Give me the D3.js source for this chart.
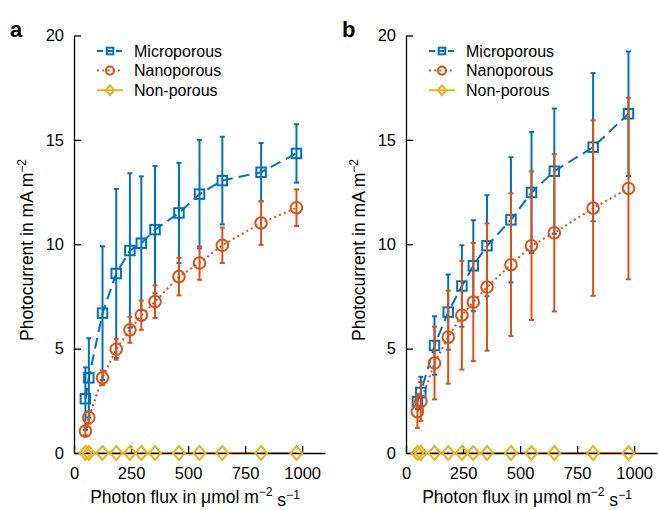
<!DOCTYPE html>
<head>
<meta charset="utf-8">
<title>Photocurrent vs photon flux</title>
<style>
html, body { margin: 0; padding: 0; background: #fff; }
body { font-family: 'Liberation Sans', Arial, Helvetica, sans-serif; }
.axis path, .axis line { stroke: #000; stroke-width: 1.3px; }
.axis text { font-size: 16.5px; fill: #000; font-family: 'Liberation Sans', Arial, sans-serif; }
</style>
</head>
<body>
<svg width="658" height="510"></svg>
<script src="https://cdnjs.cloudflare.com/ajax/libs/d3/7.8.5/d3.min.js"></script>
<script>
var flux = [50, 65, 125, 185, 245, 295, 355, 460, 550, 650, 820, 975];

// panel a
var microA    = [2.6, 3.6, 6.7, 8.6, 9.7, 10.05, 10.7, 11.5, 12.4, 13.05, 13.45, 14.35];
var microAErr = [1.5, 1.9, 3.2, 4.05, 3.7, 3.2, 3.05, 2.4, 2.6, 2.1, 1.4, 1.4];
var nanoA     = [1.05, 1.7, 3.6, 4.97, 5.9, 6.6, 7.25, 8.45, 9.1, 9.95, 11.02, 11.75];
var nanoAErr  = [0.2, 0.3, 0.35, 0.5, 0.62, 0.7, 0.78, 0.9, 0.8, 0.85, 1.05, 0.88];

// panel b
var microB    = [2.46, 2.9, 5.15, 6.75, 8.0, 8.97, 9.93, 11.17, 12.48, 13.5, 14.65, 16.25];
var microBErr = [0.35, 0.75, 1.4, 1.8, 1.95, 2.18, 2.42, 3.0, 2.9, 3.0, 3.55, 2.98];
var nanoB     = [1.98, 2.47, 4.31, 5.55, 6.6, 7.23, 7.95, 9.02, 9.93, 10.55, 11.73, 12.67];
var nanoBErr  = [0.78, 0.93, 1.74, 2.23, 2.6, 2.83, 3.05, 3.42, 3.56, 3.77, 4.2, 4.35];

var nonPorous    = [0, 0, 0, 0, 0, 0, 0, 0, 0, 0, 0, 0];
var nonPorousErr = [0, 0, 0, 0, 0, 0, 0, 0, 0, 0, 0, 0];

var xTicks = [0, 250, 500, 750, 1000];
var yTicks = [0, 5, 10, 15, 20];
var seriesNames = ["Microporous", "Nanoporous", "Non-porous"];

var colors = ["#0072BD", "#D95319", "#EDB120"];

var svg = d3.select("svg");
svg.append("rect").attr("width", 658).attr("height", 510).attr("fill", "#fff");

function drawPanel(left, letter, micro, microErr, nano, nanoErr) {
  var x = d3.scaleLinear().domain([0, 1100]).range([left, left + 251]);
  var y = d3.scaleLinear().domain([0, 20]).range([453, 35.5]);
  var g = svg.append("g");

  var series = [
    {v: micro, e: microErr, c: colors[0], dash: "11,6", shape: "square"},
    {v: nano, e: nanoErr, c: colors[1], dash: "2,3.2", shape: "circle"},
    {v: nonPorous, e: nonPorousErr, c: colors[2], dash: null, shape: "diamond"}
  ];

  var line = d3.line()
    .x(function(d) { return x(d[0]); })
    .y(function(d) { return y(d[1]); });

  // lines
  series.forEach(function(s) {
    g.append("path")
      .datum(flux.map(function(f, i) { return [f, s.v[i]]; }))
      .attr("d", line)
      .attr("fill", "none")
      .attr("stroke", s.c)
      .attr("stroke-width", 2)
      .attr("stroke-dasharray", s.dash);
  });

  // axes
  g.append("g")
    .attr("class", "axis")
    .attr("transform", "translate(0," + y(0) + ")")
    .call(d3.axisBottom(x).tickValues(xTicks).tickFormat(d3.format("d"))
      .tickSizeInner(-7).tickSizeOuter(0).tickPadding(14));
  g.append("g")
    .attr("class", "axis")
    .attr("transform", "translate(" + x(0) + ",0)")
    .call(d3.axisLeft(y).tickValues(yTicks).tickSizeInner(-7).tickSizeOuter(0).tickPadding(10));

  // error bars + markers
  series.forEach(function(s) {
    var pts = flux.map(function(f, i) { return {x: f, v: s.v[i], e: s.e[i]}; });
    var eb = g.append("g").attr("stroke", s.c).attr("stroke-width", 2);
    pts.forEach(function(p) {
      if (p.e <= 0) return;
      var cx = x(p.x);
      eb.append("line").attr("x1", cx).attr("x2", cx).attr("y1", y(p.v - p.e)).attr("y2", y(p.v + p.e));
      eb.append("line").attr("x1", cx - 2.5).attr("x2", cx + 2.5).attr("y1", y(p.v - p.e)).attr("y2", y(p.v - p.e));
      eb.append("line").attr("x1", cx - 2.5).attr("x2", cx + 2.5).attr("y1", y(p.v + p.e)).attr("y2", y(p.v + p.e));
    });
    pts.forEach(function(p) {
      drawMarker(g, s.shape, x(p.x), y(p.v), s.c, 1);
    });
  });

  // legend
  var lg = g.append("g");
  series.forEach(function(s, i) {
    var ly = 51 + i * 19.6;
    var lx0 = left + 23;
    lg.append("line")
      .attr("x1", lx0).attr("x2", lx0 + 26).attr("y1", ly).attr("y2", ly)
      .attr("stroke", s.c).attr("stroke-width", 2)
      .attr("stroke-dasharray", i === 0 ? "6,3.5" : (i === 1 ? "2,3.2" : null));
    drawMarker(lg, s.shape, lx0 + 13, ly, s.c, 0.7);
    lg.append("text")
      .attr("x", lx0 + 37).attr("y", ly)
      .attr("dy", "0.35em")
      .attr("font-size", "16px")
      .text(seriesNames[i]);
  });

  // panel letter
  svg.append("text")
    .attr("x", left - 64).attr("y", 37)
    .attr("font-size", "22px").attr("font-weight", "bold")
    .text(letter);

  // y label
  var yl = svg.append("text")
    .attr("transform", "translate(" + (left - 41) + ",250) rotate(-90)")
    .attr("text-anchor", "middle")
    .attr("font-size", "17.5px");
  yl.append("tspan").text("Photocurrent in mA m");
  yl.append("tspan").attr("dy", "-0.6em").attr("font-size", "12px").text("\u22122");

  // x label
  var xl = svg.append("text")
    .attr("x", left + 121).attr("y", 503)
    .attr("text-anchor", "middle")
    .attr("font-size", "17.5px");
  xl.append("tspan").text("Photon flux in \u03bcmol m");
  xl.append("tspan").attr("dy", "-0.6em").attr("font-size", "12px").text("\u22122");
  xl.append("tspan").attr("dy", "0.6em").attr("font-size", "17.5px").text(" s");
  xl.append("tspan").attr("dy", "-0.6em").attr("font-size", "12px").text("\u22121");
}

function drawMarker(g, shape, cx, cy, c, k) {
  var m;
  if (shape === "square") {
    var s = 9.5 * k;
    m = g.append("rect").attr("x", cx - s / 2).attr("y", cy - s / 2).attr("width", s).attr("height", s);
  } else if (shape === "circle") {
    m = g.append("circle").attr("cx", cx).attr("cy", cy).attr("r", 5.8 * k);
  } else {
    var w = 6 * k, h = 7 * k;
    m = g.append("path").attr("d", "M" + cx + "," + (cy - h) + "L" + (cx + w) + "," + cy + "L" + cx + "," + (cy + h) + "L" + (cx - w) + "," + cy + "Z");
  }
  m.attr("fill", "none").attr("stroke", c).attr("stroke-width", 2);
}

drawPanel(74, "a", microA, microAErr, nanoA, nanoAErr);
drawPanel(406, "b", microB, microBErr, nanoB, nanoBErr);
</script>
</body>
